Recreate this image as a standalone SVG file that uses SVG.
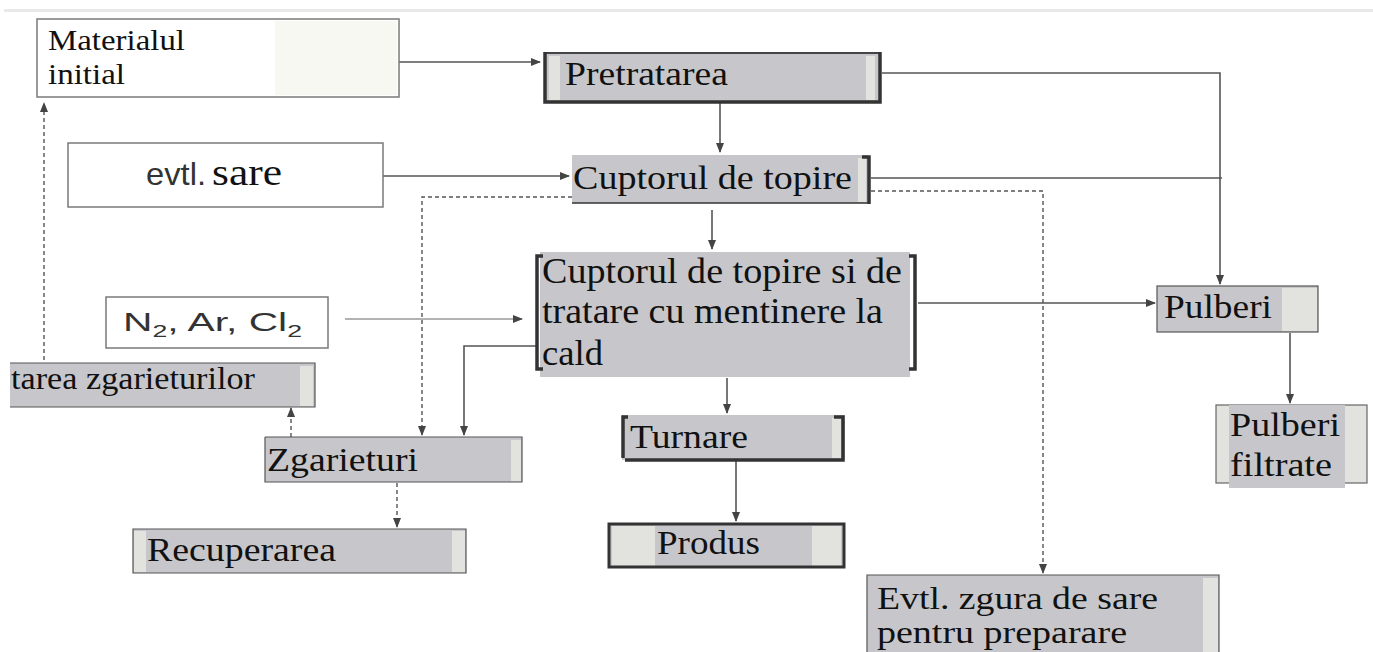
<svg xmlns="http://www.w3.org/2000/svg" width="1373" height="652" viewBox="0 0 1373 652">
<defs>
<marker id="ah" markerWidth="10" markerHeight="8" refX="9" refY="4" orient="auto" markerUnits="userSpaceOnUse">
<path d="M0,0 L10,4 L0,8 Z" fill="#444"/>
</marker>
<style>
.t{font-family:'Liberation Serif','Times New Roman',Times,serif;fill:#111;}
.s{font-family:'Liberation Sans',Arial,sans-serif;fill:#333;}
.g{fill:#c7c7cb;}
.lt{fill:#e2e2de;}
.wb{fill:#fff;stroke:#7a7a7a;stroke-width:1.5;}
.tb{fill:none;stroke:#555;stroke-width:1.2;}
.dk{stroke:#333;stroke-width:3.5;fill:none;}
.c{fill:none;stroke:#555;stroke-width:1.6;}
.cn{fill:none;stroke:#666;stroke-width:1.1;}
.d{fill:none;stroke:#555;stroke-width:1.4;stroke-dasharray:4 3;}
</style>
</defs>
<rect x="0" y="0" width="1373" height="652" fill="#fff"/>
<rect x="4" y="9" width="1369" height="3" fill="#e9e9e9"/>

<g id="connectors">
<path class="c" d="M399,62 H540" marker-end="url(#ah)"/>
<path class="c" d="M882,73 H1220 V284" marker-end="url(#ah)"/>
<path class="c" d="M720,103 V152" marker-end="url(#ah)"/>
<path class="c" d="M383,176 H569" marker-end="url(#ah)"/>
<path class="c" d="M871,178 H1222"/>
<path class="d" d="M572,197 H422 V435" marker-end="url(#ah)"/>
<path class="d" d="M871,191 H1043 V573" marker-end="url(#ah)"/>
<path class="c" d="M712,210 V249" marker-end="url(#ah)"/>
<path class="cn" d="M345,319 H522" marker-end="url(#ah)"/>
<path class="c" d="M918,303 H1155" marker-end="url(#ah)"/>
<path class="c" d="M536,346 H464 V435" marker-end="url(#ah)"/>
<path class="c" d="M727,378 V413" marker-end="url(#ah)"/>
<path class="c" d="M736,461 V521" marker-end="url(#ah)"/>
<path class="c" d="M1290,333 V403" marker-end="url(#ah)"/>
<path class="d" d="M291,437 V408" marker-end="url(#ah)"/>
<path class="d" d="M44,360 V103" marker-end="url(#ah)"/>
<path class="d" d="M397,483 V527" marker-end="url(#ah)"/>
</g>

<g id="materialul">
<rect class="wb" x="37" y="19" width="362" height="78"/>
<rect x="275" y="21" width="122" height="74" fill="#f8f8f3"/>
<text class="t" x="48" y="50" font-size="29" textLength="137" lengthAdjust="spacingAndGlyphs">Materialul</text>
<text class="t" x="48" y="84" font-size="29" textLength="77" lengthAdjust="spacingAndGlyphs">initial</text>
</g>

<g id="pretratarea">
<rect class="g" x="545" y="52" width="335" height="50"/>
<rect class="lt" x="549" y="56" width="11" height="44"/>
<rect class="lt" x="866" y="56" width="9" height="44"/>
<path d="M545,53 H880" stroke="#444" stroke-width="2" fill="none"/>
<path class="dk" d="M545,52 V102 H880 V52"/>
<text class="t" x="565" y="85" font-size="33" textLength="163" lengthAdjust="spacingAndGlyphs">Pretratarea</text>
</g>

<g id="sare">
<rect class="wb" x="68" y="143" width="315" height="64"/>
<text class="s" x="146" y="185" font-size="32" textLength="60" lengthAdjust="spacingAndGlyphs">evtl.</text>
<text class="t" x="212" y="185" font-size="37" textLength="70" lengthAdjust="spacingAndGlyphs">sare</text>
</g>

<g id="cuptorul">
<rect class="g" x="572" y="155" width="296" height="48"/>
<rect class="lt" x="858" y="158" width="8" height="44"/>
<path d="M572,203 H869" stroke="#333" stroke-width="1.6" fill="none"/>
<path class="dk" d="M862,157 H869 V204"/>
<text class="t" x="573" y="189" font-size="33" textLength="279" lengthAdjust="spacingAndGlyphs">Cuptorul de topire</text>
</g>

<g id="cuptorul-tratare">
<rect class="g" x="540" y="252" width="370" height="125"/>
<path class="dk" d="M543,256 H537 V369 H543"/>
<path class="dk" d="M909,256 H915 V369 H909"/>
<text class="t" x="542" y="283" font-size="35" textLength="360" lengthAdjust="spacingAndGlyphs">Cuptorul de topire si de</text>
<text class="t" x="542" y="323" font-size="35" textLength="341" lengthAdjust="spacingAndGlyphs">tratare cu mentinere la</text>
<text class="t" x="542" y="365" font-size="35" textLength="61" lengthAdjust="spacingAndGlyphs">cald</text>
</g>

<g id="gaze">
<rect class="wb" x="106" y="297" width="222" height="51" stroke="#666"/>
<text class="s" x="123" y="331" font-size="26" textLength="179" lengthAdjust="spacingAndGlyphs">N<tspan font-size="17" dy="6">2</tspan><tspan dy="-6">, Ar, Cl</tspan><tspan font-size="17" dy="6">2</tspan></text>
</g>

<g id="tratarea-zgarieturilor">
<rect class="g" x="10" y="363" width="305" height="44"/>
<rect class="lt" x="300" y="366" width="13" height="40"/>
<path class="tb" d="M10,363 H315 V407 H10"/>
<text class="t" x="11" y="389" font-size="32" textLength="244" lengthAdjust="spacingAndGlyphs">tarea zgarieturilor</text>
</g>

<g id="zgarieturi">
<rect class="g" x="265" y="437" width="257" height="45"/>
<rect class="lt" x="511" y="440" width="10" height="41"/>
<path class="tb" d="M265,437 V482 H522 V437 H265"/>
<text class="t" x="267" y="471" font-size="34" textLength="151" lengthAdjust="spacingAndGlyphs">Zgarieturi</text>
</g>

<g id="recuperarea">
<rect class="g" x="133" y="529" width="333" height="44"/>
<rect class="lt" x="134" y="531" width="12" height="41"/>
<rect class="lt" x="452" y="531" width="13" height="41"/>
<path class="tb" d="M133,529 H466 V573 H133 Z"/>
<text class="t" x="147" y="561" font-size="33" textLength="189" lengthAdjust="spacingAndGlyphs">Recuperarea</text>
</g>

<g id="turnare">
<rect class="g" x="622" y="415" width="223" height="45"/>
<rect class="lt" x="832" y="418" width="9" height="40"/>
<path class="dk" d="M628,417 H623 V458"/>
<path class="dk" d="M834,417 H843 V460 H625"/>
<text class="t" x="630" y="448" font-size="33" textLength="118" lengthAdjust="spacingAndGlyphs">Turnare</text>
</g>

<g id="produs">
<rect class="g" x="608" y="523" width="237" height="45"/>
<rect class="lt" x="612" y="526" width="43" height="40"/>
<rect class="lt" x="812" y="526" width="29" height="40"/>
<rect x="609" y="524" width="235" height="43" fill="none" stroke="#333" stroke-width="3"/>
<text class="t" x="657" y="554" font-size="33" textLength="103" lengthAdjust="spacingAndGlyphs">Produs</text>
</g>

<g id="pulberi">
<rect class="g" x="1157" y="286" width="161" height="46"/>
<rect class="lt" x="1282" y="288" width="35" height="43"/>
<rect class="tb" x="1157" y="286" width="161" height="46"/>
<text class="t" x="1164" y="318" font-size="33" textLength="108" lengthAdjust="spacingAndGlyphs">Pulberi</text>
</g>

<g id="pulberi-filtrate">
<rect x="1216" y="405" width="151" height="78" fill="#e2e2de" stroke="#666" stroke-width="1.2"/>
<rect class="g" x="1229" y="405" width="116" height="83"/>
<text class="t" x="1230" y="436" font-size="33" textLength="110" lengthAdjust="spacingAndGlyphs">Pulberi</text>
<text class="t" x="1230" y="476" font-size="33" textLength="102" lengthAdjust="spacingAndGlyphs">filtrate</text>
</g>

<g id="zgura">
<rect class="g" x="867" y="575" width="352" height="80"/>
<rect class="lt" x="1203" y="578" width="15" height="74"/>
<path class="tb" d="M867,655 V575 H1219 V655"/>
<text class="t" x="877" y="609" font-size="32" textLength="281" lengthAdjust="spacingAndGlyphs">Evtl. zgura de sare</text>
<text class="t" x="877" y="643" font-size="32" textLength="250" lengthAdjust="spacingAndGlyphs">pentru preparare</text>
</g>
</svg>
